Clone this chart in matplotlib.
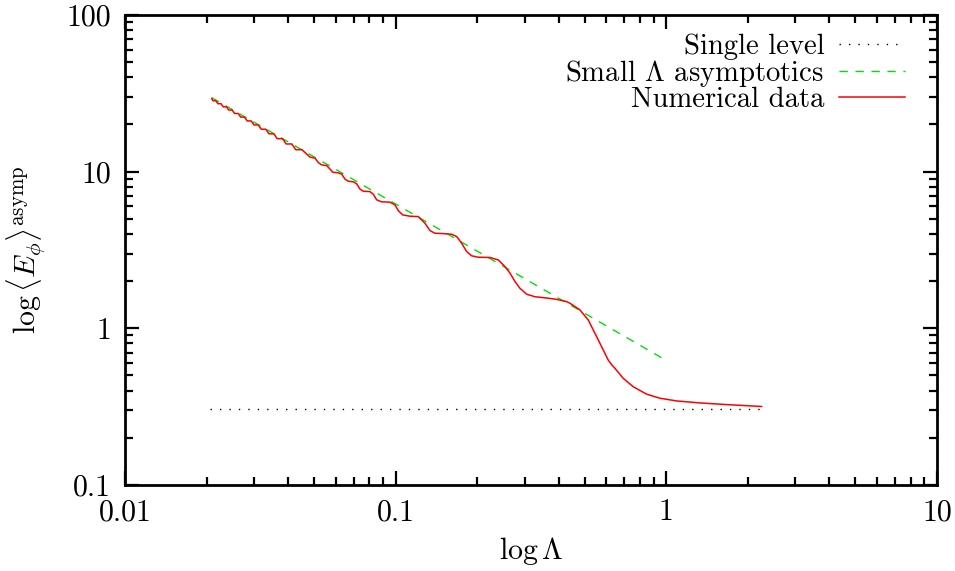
import matplotlib
matplotlib.use("Agg")
import matplotlib.pyplot as plt
from matplotlib.ticker import FixedLocator, FixedFormatter, LogLocator, NullFormatter

plt.rcParams['font.family'] = 'serif'
plt.rcParams['font.serif'] = ['cmr10']
plt.rcParams['mathtext.fontset'] = 'cm'
plt.rcParams['axes.unicode_minus'] = False

# numerical data (red)
lam_num = [0.0209, 0.02110, 0.02165, 0.02203, 0.02262, 0.02304, 0.02370, 0.02415, 0.02488,
           0.02538, 0.02618, 0.02674, 0.02762, 0.02825, 0.02924, 0.02994, 0.03106,
           0.03185, 0.03311, 0.03401, 0.03546, 0.03650, 0.03817, 0.03937, 0.04132,
           0.04274, 0.04505,
           0.04825, 0.05035, 0.05178, 0.05329, 0.05561, 0.05720, 0.05852, 0.06138,
           0.06318, 0.06498, 0.06683, 0.06974, 0.07178, 0.07382, 0.07592, 0.08035,
           0.08264, 0.08507, 0.08875, 0.09526, 0.09940, 0.1022, 0.1061, 0.1129,
           0.1212, 0.1283, 0.1339, 0.1397, 0.1499, 0.1610, 0.1680, 0.1753, 0.1829,
           0.1909, 0.2019, 0.2230, 0.2393, 0.2533, 0.2644, 0.2759, 0.2878, 0.3047,
           0.3269, 0.3612, 0.3932, 0.4281, 0.4403, 0.4796, 0.5146, 0.5448, 0.5766,
           0.6099, 0.6279, 0.6457, 0.6928, 0.7546, 0.8457, 0.9469, 1.091, 1.331, 1.670, 2.25]
e_num = [29.3, 28.31, 28.31, 27.10, 27.10, 25.89, 25.89, 24.68, 24.68,
         23.47, 23.47, 22.26, 22.26, 21.05, 21.05, 19.84, 19.84,
         18.63, 18.63, 17.42, 17.42, 16.21, 16.21, 15.00, 15.00,
         13.79, 13.79,
         12.36, 12.18, 11.41, 11.03, 10.92, 10.36, 9.91, 9.81,
         9.63, 8.94, 8.68, 8.60, 8.35, 7.72, 7.49, 7.45,
         7.17, 6.60, 6.41, 6.38, 6.13, 5.64, 5.29, 5.19,
         5.16, 4.68, 4.20, 4.04, 4.02, 3.98, 3.85, 3.49, 3.09,
         2.90, 2.84, 2.83, 2.73, 2.48, 2.25, 1.99, 1.80, 1.65,
         1.59, 1.56, 1.53, 1.48, 1.446, 1.310, 1.131, 0.930, 0.764,
         0.628, 0.586, 0.556, 0.480, 0.424, 0.380, 0.358, 0.344, 0.334, 0.326, 0.317]

# small Lambda asymptotics (green)
lam_asym = [0.0209, 0.963]
e_asym = [29.6, 0.647]

# single level (black dotted)
lam_single = [0.0206, 2.25]
e_single = [0.306, 0.306]

fig = plt.figure(figsize=(9.55, 5.71), dpi=100)
ax = fig.add_axes([0.131, 0.1506, 0.850, 0.8234])

ax.plot(lam_single, e_single, color='black', lw=1.0, linestyle=(0, (1, 5.8)), label='Single level')
ax.plot(lam_asym, e_asym, color='#00e000', lw=1.0, linestyle=(0, (6, 5.5)),
        label=r'Small $\Lambda$ asymptotics')
ax.plot(lam_num, e_num, color='#ff0000', lw=1.1, label='Numerical data')

ax.set_xscale('log')
ax.set_yscale('log')
ax.set_xlim(0.01, 10)
ax.set_ylim(0.1, 100)

fs = 21.5
ax.xaxis.set_major_locator(FixedLocator([0.01, 0.1, 1, 10]))
ax.xaxis.set_major_formatter(FixedFormatter(['0.01', '0.1', '1', '10']))
ax.yaxis.set_major_locator(FixedLocator([0.1, 1, 10, 100]))
ax.yaxis.set_major_formatter(FixedFormatter(['0.1', '1', '10', '100']))
for axis in (ax.xaxis, ax.yaxis):
    axis.set_minor_locator(LogLocator(base=10, subs=range(2, 10)))
    axis.set_minor_formatter(NullFormatter())

ax.tick_params(which='both', direction='in', top=True, right=True, width=1.6, labelsize=fs)
ax.tick_params(which='major', length=10, pad=10)
ax.tick_params(which='minor', length=5.5)
for s in ax.spines.values():
    s.set_linewidth(2.0)

ax.set_xlabel(r'$\log\Lambda$', fontsize=fs, labelpad=6)
ax.set_ylabel(r'$\log\langle E_\phi\rangle^{\rm asymp}$', fontsize=fs, labelpad=14)

ax.legend(loc='upper right', frameon=False, markerfirst=False, fontsize=fs * 0.96,
          handlelength=2.3, handletextpad=0.5, labelspacing=-0.09,
          borderaxespad=0.3, bbox_to_anchor=(0.985, 1.002))

fig.savefig('out.png', dpi=100)
